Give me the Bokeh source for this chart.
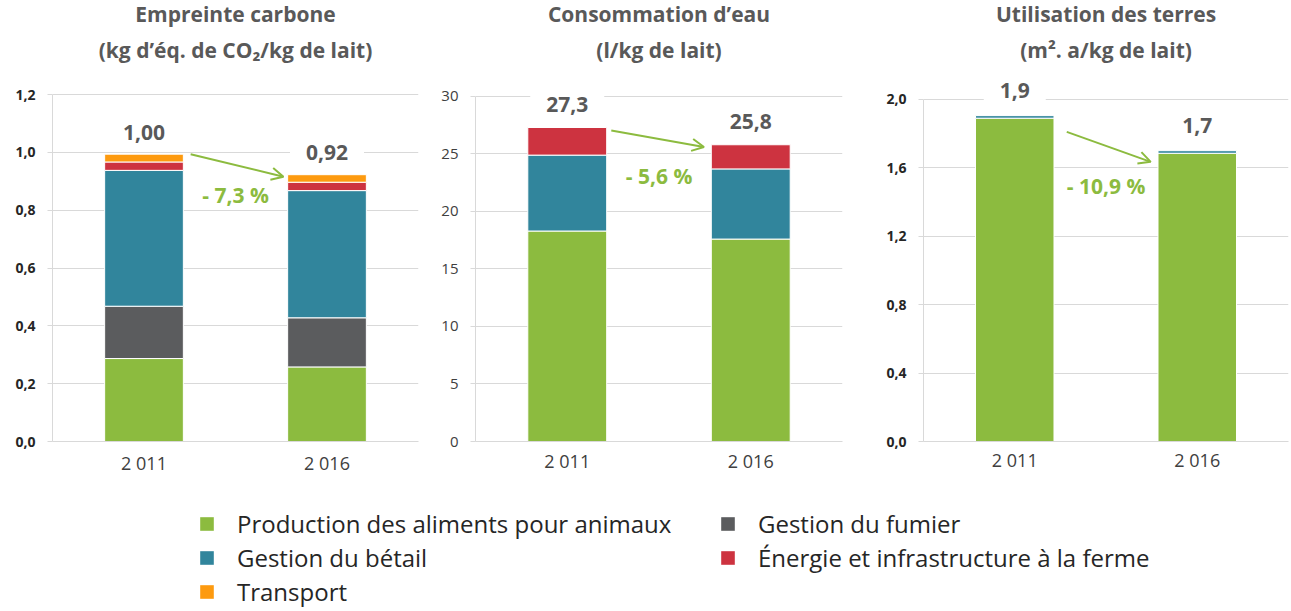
from bokeh.plotting import figure
from bokeh.models import (FactorRange, Range1d, FixedTicker, Title, Arrow, OpenHead,
                          ColumnDataSource, Legend, LegendItem)
from bokeh.layouts import column, row
from bokeh.core.properties import value
from bokeh.embed import file_html
from bokeh.resources import INLINE

# ---------------- data ----------------
years = ["2 011", "2 016"]

series_names = ["Production des aliments pour animaux", "Gestion du fumier",
                "Gestion du bétail", "Énergie et infrastructure à la ferme", "Transport"]

carbone_aliments = [0.287, 0.258]
carbone_fumier = [0.181, 0.170]
carbone_betail = [0.470, 0.440]
carbone_energie = [0.029, 0.029]
carbone_transport = [0.027, 0.026]
carbone_totaux = [1.00, 0.92]
carbone_variation = -7.3
carbone_ticks = [0, 0.2, 0.4, 0.6, 0.8, 1.0, 1.2]
carbone_tick_labels = ["0,0", "0,2", "0,4", "0,6", "0,8", "1,0", "1,2"]

eau_aliments = [18.3, 17.6]
eau_betail = [6.6, 6.1]
eau_energie = [2.4, 2.1]
eau_totaux = [27.3, 25.8]
eau_variation = -5.6
eau_ticks = [0, 5, 10, 15, 20, 25, 30]
eau_tick_labels = ["0", "5", "10", "15", "20", "25", "30"]

terres_aliments = [1.89, 1.685]
terres_betail = [0.015, 0.015]
terres_totaux = [1.9, 1.7]
terres_variation = -10.9
terres_ticks = [0, 0.4, 0.8, 1.2, 1.6, 2.0]
terres_tick_labels = ["0,0", "0,4", "0,8", "1,2", "1,6", "2,0"]

# ---------------- style ----------------
FONT = "Open Sans"
GREEN = "#8cbb3f"
TEAL = "#31859c"
DGRAY = "#5b5c5e"
RED = "#cd3340"
ORANGE = "#fd9a0f"
COLORS = {"Production des aliments pour animaux": GREEN, "Gestion du fumier": DGRAY,
          "Gestion du bétail": TEAL, "Énergie et infrastructure à la ferme": RED,
          "Transport": ORANGE}
TITLE_COLOR = "#595959"
GRID = "#d9d9d9"
H = 478
BAR_W = 0.43


def fmt(v, nd):
    return f"{v:.{nd}f}".replace(".", ",")


def panel(t1, t2, w, bl, br, bb, xstand, y_end, ticks, tick_labels, tick_bold, tick_size,
          names, values, totals, nd, variation, label_off, arrow_geom, pct_y):
    p = figure(width=w, height=H, x_range=FactorRange(*years), y_range=Range1d(0, y_end),
               output_backend="svg", toolbar_location=None, title=None,
               min_border_left=bl, min_border_right=br, min_border_top=70,
               min_border_bottom=bb)
    data = dict(x=years)
    keys = []
    for i, (n, v) in enumerate(zip(names, values)):
        k = f"s{i}"
        keys.append(k)
        data[k] = v
    src = ColumnDataSource(data)
    p.vbar_stack(keys, x="x", width=BAR_W, fill_color=[COLORS[n] for n in names],
                 line_color="white", line_width=1, source=src)

    tops = [sum(c) for c in zip(*values)]
    lab = ColumnDataSource(dict(x=years, y=tops, text=[fmt(t, nd) for t in totals]))
    p.text(x="x", y="y", text="text", source=lab, text_font=value(FONT),
           text_font_style="bold", text_font_size="21px", text_color=TITLE_COLOR,
           text_align="center", text_baseline="middle", y_offset=-label_off,
           background_fill_color="white", padding=(16, 2))

    # arrow between bar tops
    sdx, sdy, edx, edy = arrow_geom
    p.add_layout(Arrow(end=OpenHead(size=12, line_color=GREEN, line_width=2),
                       x_start=0.5 + BAR_W / 2 + sdx, y_start=tops[0] + sdy,
                       x_end=1.5 - BAR_W / 2 - edx, y_end=tops[1] + edy,
                       line_color=GREEN, line_width=2))
    pct = ColumnDataSource(dict(x=[1.0], y=[pct_y],
                                text=["- " + fmt(abs(variation), 1) + " %"]))
    p.text(x="x", y="y", text="text", source=pct, text_font=value(FONT),
           text_font_style="bold", text_font_size="21px", text_color=GREEN,
           text_align="center", text_baseline="middle")

    p.add_layout(Title(text=t2, align="center", text_font=FONT, text_font_size="21px",
                       text_font_style="bold", text_color=TITLE_COLOR, standoff=16), "above")
    p.add_layout(Title(text=t1, align="center", text_font=FONT, text_font_size="21px",
                       text_font_style="bold", text_color=TITLE_COLOR, standoff=-5), "above")

    p.xaxis.major_tick_line_color = None
    p.xaxis.major_tick_out = 0
    p.xaxis.major_tick_in = 0
    p.xaxis.minor_tick_line_color = None
    p.xaxis.minor_tick_out = 0
    p.xaxis.axis_label_standoff = 0
    p.xaxis.axis_line_color = GRID
    p.xaxis.major_label_text_font = FONT
    p.xaxis.major_label_text_font_size = "18px"
    p.xaxis.major_label_text_color = "#404040"
    p.xaxis.major_label_standoff = xstand

    p.yaxis.ticker = FixedTicker(ticks=ticks)
    p.yaxis.major_label_overrides = {t: l for t, l in zip(ticks, tick_labels)}
    p.yaxis.bounds = (0, ticks[-1])
    p.yaxis.axis_line_color = GRID
    p.yaxis.major_tick_line_color = GRID
    p.yaxis.major_tick_out = 5
    p.yaxis.major_tick_in = 0
    p.yaxis.minor_tick_line_color = None
    p.yaxis.major_label_text_font = FONT
    p.yaxis.major_label_text_font_size = tick_size
    p.yaxis.major_label_text_font_style = "bold" if tick_bold else "normal"
    p.yaxis.major_label_text_color = "#262626" if tick_bold else "#404040"
    p.yaxis.major_label_standoff = 12

    p.ygrid.ticker = FixedTicker(ticks=ticks)
    p.ygrid.grid_line_color = GRID
    p.xgrid.grid_line_color = None
    p.outline_line_color = None
    return p


p1 = panel("Empreinte carbone", "(kg d’éq. de CO₂/kg de lait)", 430, 52, 12, 37, 9, 1.28,
           carbone_ticks, carbone_tick_labels, True, "14px",
           series_names,
           [carbone_aliments, carbone_fumier, carbone_betail, carbone_energie, carbone_transport],
           carbone_totaux, 2, carbone_variation, 22, (0.04, 0.0, 0.023, -0.007), 0.853)

p2 = panel("Consommation d’eau", "(l/kg de lait)", 420, 45, 8, 35, 7, 32.17,
           eau_ticks, eau_tick_labels, False, "15px",
           ["Production des aliments pour animaux", "Gestion du bétail",
            "Énergie et infrastructure à la ferme"],
           [eau_aliments, eau_betail, eau_energie],
           eau_totaux, 1, eau_variation, 23, (0.025, -0.26, 0.04, -0.2), 23.1)

p3 = panel("Utilisation des terres", "(m². a/kg de lait)", 441, 73, 3, 34, 6, 2.163,
           terres_ticks, terres_tick_labels, True, "14px",
           ["Production des aliments pour animaux", "Gestion du bétail"],
           [terres_aliments, terres_betail],
           terres_totaux, 1, terres_variation, 25, (0.07, -0.095, 0.04, -0.065), 1.494)

# ---------------- legend ----------------
lf = figure(width=1291, height=133, x_range=Range1d(0, 1), y_range=Range1d(0, 1),
            output_backend="svg", toolbar_location=None, title=None,
            min_border_left=198, min_border_top=29, min_border_right=0, min_border_bottom=0)
lf.axis.visible = False
lf.grid.visible = False
lf.outline_line_color = None
rends = {}
for n in series_names:
    # off-screen proxy bar, only used to draw the legend swatch
    rends[n] = lf.vbar(x=[-5], top=[0], width=0.1, fill_color=COLORS[n], line_color=None)
order = ["Production des aliments pour animaux", "Gestion du fumier", "Gestion du bétail",
         "Énergie et infrastructure à la ferme", "Transport"]
legend = Legend(items=[LegendItem(label=n, renderers=[rends[n]]) for n in order],
                orientation="horizontal", ncols=2, location="top_left",
                margin=0, padding=0, spacing=1, label_standoff=22,
                glyph_width=17, glyph_height=17, label_width=481,
                label_text_font=FONT, label_text_font_size="24px",
                label_text_color="#262626", border_line_color=None,
                background_fill_alpha=0)
lf.add_layout(legend, "center")

layout = column(row(p1, p2, p3), lf)
open("out.html", "w").write(file_html(layout, INLINE))
